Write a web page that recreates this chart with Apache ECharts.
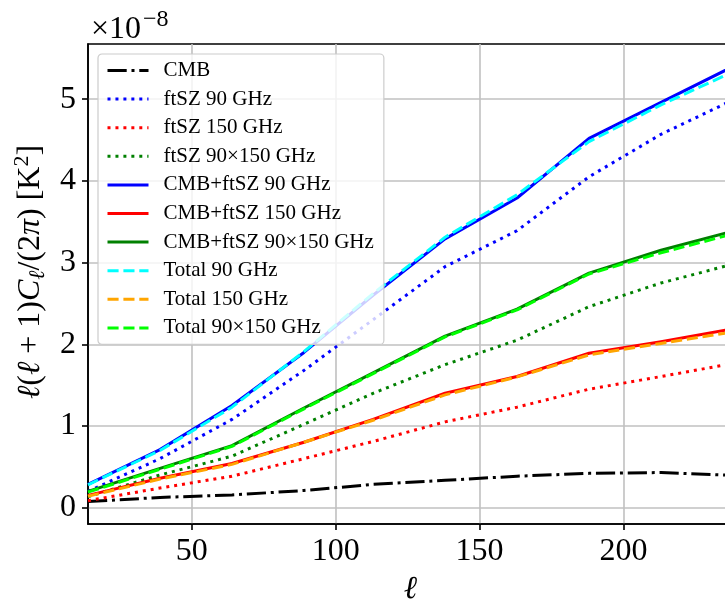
<!DOCTYPE html>
<html>
<head>
<meta charset="utf-8">
<script src="https://cdn.jsdelivr.net/npm/echarts@6/dist/echarts.min.js"></script>
<style>
  html, body { margin: 0; padding: 0; background: #fff; }
  #chart { width: 725px; height: 602px; }
</style>
</head>
<body>
<div id="chart"></div>
<script>
// Multipole bin centres
const ell = [14, 39, 64, 89, 113, 138, 163, 188, 213, 238];

// Band powers, in units of 1e-8 K^2
const cmb           = [0.075, 0.125, 0.155, 0.21, 0.285, 0.335, 0.385, 0.42, 0.43, 0.395];
const ftsz90        = [0.20, 0.60, 1.08, 1.68, 2.30, 2.95, 3.39, 4.05, 4.57, 4.99];
const ftsz150       = [0.085, 0.24, 0.385, 0.60, 0.81, 1.05, 1.23, 1.45, 1.605, 1.765];
const ftsz90x150    = [0.135, 0.40, 0.63, 1.02, 1.40, 1.75, 2.05, 2.46, 2.75, 2.98];
const cmbFtsz90     = [0.285, 0.71, 1.25, 1.90, 2.60, 3.29, 3.79, 4.52, 4.96, 5.40];
const cmbFtsz150    = [0.15, 0.36, 0.54, 0.80, 1.08, 1.40, 1.605, 1.89, 2.03, 2.19];
const cmbFtsz90x150 = [0.20, 0.48, 0.76, 1.22, 1.65, 2.10, 2.43, 2.87, 3.15, 3.385];
const total90       = [0.28, 0.70, 1.23, 1.91, 2.62, 3.31, 3.83, 4.48, 4.93, 5.335];
const total150      = [0.14, 0.35, 0.53, 0.80, 1.07, 1.38, 1.60, 1.87, 2.01, 2.15];
const total90x150   = [0.19, 0.47, 0.75, 1.21, 1.64, 2.09, 2.42, 2.86, 3.12, 3.35];

const xTicks = [50, 100, 150, 200];
const yTicks = [0, 1, 2, 3, 4, 5];

const SERIF = "'Liberation Serif', 'DejaVu Serif', serif";
const LW = 3;
const DASHDOT = [19.2, 4.8, 3, 4.8];
const DOTTED = [3, 4.95];
const DASHED = [11.1, 4.8];

const lineDefs = [
  { name: 'CMB',                 data: cmb,           color: '#000000', type: DASHDOT },
  { name: 'ftSZ 90 GHz',         data: ftsz90,        color: '#0000ff', type: DOTTED },
  { name: 'ftSZ 150 GHz',        data: ftsz150,       color: '#ff0000', type: DOTTED },
  { name: 'ftSZ 90×150 GHz',     data: ftsz90x150,    color: '#008000', type: DOTTED },
  { name: 'CMB+ftSZ 90 GHz',     data: cmbFtsz90,     color: '#0000ff', type: 'solid' },
  { name: 'CMB+ftSZ 150 GHz',    data: cmbFtsz150,    color: '#ff0000', type: 'solid' },
  { name: 'CMB+ftSZ 90×150 GHz', data: cmbFtsz90x150, color: '#008000', type: 'solid' },
  { name: 'Total 90 GHz',        data: total90,       color: '#00ffff', type: DASHED },
  { name: 'Total 150 GHz',       data: total150,      color: '#ffa500', type: DASHED },
  { name: 'Total 90×150 GHz',    data: total90x150,   color: '#00ff00', type: DASHED }
];

const series = lineDefs.map((d, i) => ({
  name: d.name,
  type: 'line',
  data: ell.map((l, k) => [l, d.data[k]]),
  symbol: 'none',
  z: 2 + i * 0.01,
  clip: true,
  color: d.color,
  lineStyle: { color: d.color, width: LW, type: d.type, cap: 'butt', join: 'round' },
  emphasis: { disabled: true },
  animation: false
}));

const chart = echarts.init(document.getElementById('chart'), null, { renderer: 'canvas' });

chart.setOption({
  animation: false,
  backgroundColor: '#ffffff',
  grid: {
    left: 88, top: 44, bottom: 78, right: -8,
    outerBoundsMode: 'none',
    containLabel: false,
    show: true, borderColor: '#000', borderWidth: 1.6, backgroundColor: 'transparent'
  },
  legend: {
    orient: 'vertical',
    left: 98, top: 54,
    padding: [6, 10, 6, 8],
    itemWidth: 41, itemHeight: 20, itemGap: 7.6,
    backgroundColor: 'rgba(255,255,255,0.8)',
    borderColor: '#cccccc', borderWidth: 1.2, borderRadius: 4,
    itemStyle: { color: 'transparent', borderWidth: 0, opacity: 0 },
    lineStyle: { width: 3 },
    textStyle: { fontFamily: SERIF, fontSize: 21, color: '#000', lineHeight: 20, padding: [0, 0, 0, 10] },
    data: lineDefs.map(d => d.name),
    selectedMode: false
  },
  xAxis: {
    type: 'value',
    min: 14, max: 238,
    name: 'ℓ',
    nameLocation: 'middle',
    nameGap: 50,
    nameTextStyle: { fontFamily: SERIF, fontSize: 32, fontStyle: 'italic', color: '#000' },
    axisLine: { show: true, onZero: false, lineStyle: { color: '#000', width: 1.6 } },
    axisTick: { show: true, inside: false, length: 6, customValues: xTicks, lineStyle: { color: '#000', width: 1.6 } },
    axisLabel: { customValues: xTicks, margin: 12, fontFamily: SERIF, fontSize: 32, color: '#000' },
    splitLine: { show: true, lineStyle: { color: '#c0c0c0', width: 1.6 } }
  },
  yAxis: {
    type: 'value',
    min: -0.2, max: 5.675,
    name: '{it|ℓ}({it|ℓ} + 1){it|C}{sub|ℓ}/(2{it|π}) [K{sup|2}]',
    nameLocation: 'middle',
    nameRotate: 90,
    nameGap: 37,
    nameTextStyle: {
      fontFamily: SERIF, fontSize: 32, color: '#000', lineHeight: 38,
      padding: [0, 0, 0, 24],
      rich: {
        it: { fontFamily: SERIF, fontSize: 32, fontStyle: 'italic', color: '#000', lineHeight: 38 },
        sub: { fontFamily: SERIF, fontSize: 22, fontStyle: 'italic', color: '#000', verticalAlign: 'bottom', lineHeight: 22 },
        sup: { fontFamily: SERIF, fontSize: 22, color: '#000', verticalAlign: 'top', lineHeight: 22 }
      }
    },
    axisLine: { show: true, onZero: false, lineStyle: { color: '#000', width: 1.6 } },
    axisTick: { show: true, inside: false, length: 6, customValues: yTicks, lineStyle: { color: '#000', width: 1.6 } },
    axisLabel: { customValues: yTicks, margin: 12, fontFamily: SERIF, fontSize: 32, color: '#000' },
    splitLine: { show: true, lineStyle: { color: '#c0c0c0', width: 1.6 } }
  },
  graphic: [
    { type: 'text', x: 91, y: 30, style: { text: '×10', fontSize: 32, fontFamily: SERIF, fill: '#000', verticalAlign: 'middle' } },
    { type: 'text', x: 143, y: 20, style: { text: '−8', fontSize: 24, fontFamily: SERIF, fill: '#000', verticalAlign: 'middle' } }
  ],
  series: series
});
</script>
</body>
</html>
